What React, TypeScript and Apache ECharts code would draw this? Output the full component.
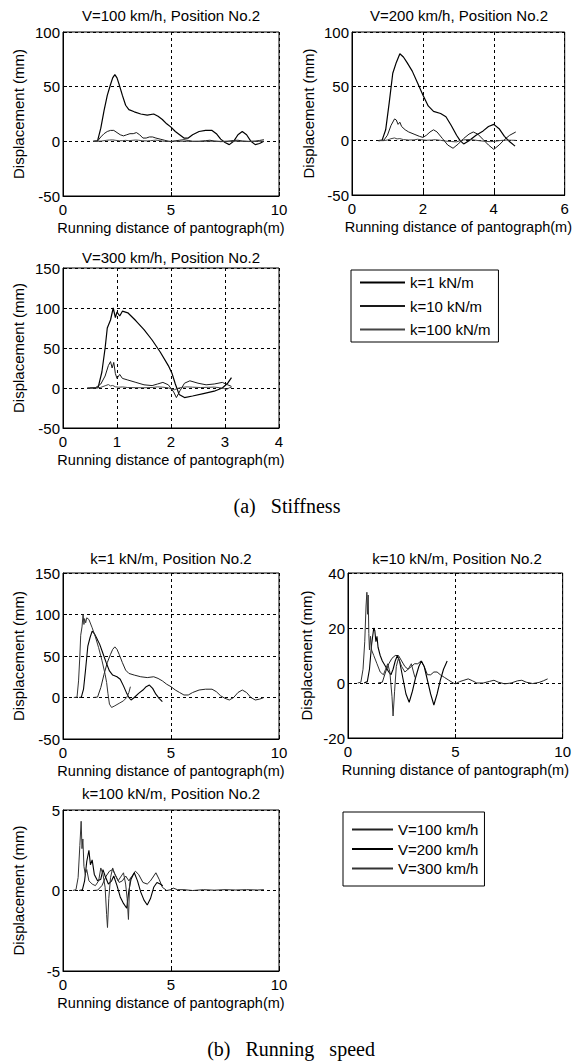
import React, { useEffect, useRef } from "react";
import * as echarts from "echarts";

// Displacement (mm) vs running distance of pantograph (m): [distance, displacement]
const k1V100 = [
  [1.4, 0], [1.6, 0.5], [1.75, 12], [1.9, 28], [2.05, 42], [2.2, 52], [2.3, 58], [2.4, 61],
  [2.5, 58], [2.6, 52], [2.75, 42], [2.9, 33], [3.05, 29], [3.3, 27], [3.6, 25], [3.9, 24],
  [4.2, 25], [4.4, 23], [4.6, 20], [4.8, 16], [5.0, 13], [5.2, 9], [5.4, 6], [5.6, 3],
  [5.8, 3], [6.0, 6], [6.3, 9], [6.6, 10], [6.9, 10], [7.1, 7], [7.3, 2], [7.5, -1],
  [7.7, -3], [7.9, 0], [8.1, 6], [8.3, 9], [8.5, 6], [8.7, 0], [8.9, -3], [9.1, -2], [9.3, 0],
];
const k1V200 = [
  [0.75, 0], [0.85, 0.5], [0.95, 10], [1.05, 35], [1.15, 62], [1.25, 72], [1.35, 80], [1.45, 77],
  [1.55, 72], [1.7, 64], [1.85, 53], [2.0, 42], [2.15, 32], [2.3, 27], [2.5, 25], [2.65, 22],
  [2.8, 14], [2.95, 5], [3.05, 0], [3.15, -3], [3.3, 0], [3.5, 5], [3.7, 9], [3.85, 13],
  [4.0, 15], [4.15, 11], [4.3, 4], [4.45, -1], [4.6, -5],
];
const k1V300 = [
  [0.5, 0], [0.65, 0.5], [0.72, 20], [0.78, 50], [0.82, 75], [0.88, 85], [0.93, 100], [0.97, 88],
  [1.0, 95], [1.05, 90], [1.1, 96], [1.2, 94], [1.35, 84], [1.5, 73], [1.65, 60], [1.8, 45],
  [1.95, 28], [2.02, 18], [2.08, 5], [2.15, -8], [2.25, -12], [2.4, -10], [2.6, -7], [2.8, -4],
  [2.95, 0], [3.05, 6], [3.12, 13],
];
const k10V100 = [
  [1.4, 0], [1.6, 0.3], [1.75, 4], [1.9, 7], [2.05, 9], [2.2, 10], [2.35, 10], [2.5, 8],
  [2.65, 6], [2.8, 5], [2.95, 6], [3.1, 7], [3.25, 7], [3.4, 8], [3.55, 6], [3.7, 3],
  [3.85, 3], [4.0, 4], [4.15, 4], [4.3, 3], [4.5, 2], [4.7, 1], [4.9, 0], [5.0, -0.3],
  [5.2, 0.5], [5.4, 1], [5.6, 1.5], [5.8, 0.8], [6.0, 0], [6.3, 0], [6.6, 0.6], [6.8, 1],
  [7.0, 0.3], [7.3, -0.3], [7.6, 0], [7.9, 0.8], [8.1, 1], [8.3, 0.3], [8.6, -0.2], [8.9, 0.2],
  [9.1, 0.8], [9.3, 1.5],
];
const k10V200 = [
  [0.75, 0], [0.9, 0.5], [1.0, 5], [1.1, 14], [1.2, 20], [1.25, 19], [1.3, 15], [1.35, 17],
  [1.4, 13], [1.5, 10], [1.6, 8], [1.75, 6], [1.9, 4], [2.0, 3], [2.1, 5], [2.2, 8],
  [2.3, 10], [2.4, 8], [2.55, 2], [2.7, -4], [2.85, -7], [3.0, -3], [3.15, 2], [3.3, 6],
  [3.42, 8], [3.55, 6], [3.7, 1], [3.85, -4], [4.0, -8], [4.15, -4], [4.3, 1], [4.45, 5], [4.62, 8],
];
const k10V300 = [
  [0.45, 0], [0.6, 0.3], [0.7, 5], [0.78, 15], [0.84, 28], [0.88, 33], [0.91, 25], [0.94, 32],
  [0.97, 18], [1.0, 12], [1.05, 17], [1.1, 12], [1.2, 10], [1.35, 7], [1.5, 4], [1.65, 3],
  [1.75, 5], [1.85, 7], [1.95, 4], [2.05, -5], [2.1, -12], [2.17, -3], [2.25, 6], [2.35, 9],
  [2.5, 6], [2.65, 4], [2.8, 5], [2.95, 7], [3.05, 4], [3.12, 2],
];
const k100V100 = [
  [1.4, 0], [1.6, 0.02], [1.8, 0.3], [2.0, 0.9], [2.15, 1.2], [2.3, 1.3], [2.45, 0.9], [2.6, 0.5],
  [2.75, 0.6], [2.9, 0.9], [3.05, 0.6], [3.2, 0.9], [3.35, 1.2], [3.5, 1.0], [3.7, 0.5], [3.9, 0.4],
  [4.05, 0.6], [4.2, 0.9], [4.3, 1.1], [4.45, 0.7], [4.6, 0.2], [4.8, 0], [5.0, 0.05], [5.1, 0.15],
  [5.3, 0.05], [5.6, 0.05], [6.0, 0], [6.5, 0.05], [7.0, 0.02], [7.5, 0.05], [8.0, 0.03],
  [8.5, 0.05], [9.0, 0.03], [9.3, 0.05],
];
const k100V200 = [
  [0.75, 0], [0.9, 0.05], [1.0, 0.6], [1.1, 1.8], [1.2, 2.5], [1.27, 1.6], [1.35, 1.9], [1.45, 1.0],
  [1.6, 0.6], [1.75, 0.7], [1.85, 1.3], [1.95, 0.9], [2.1, 0.4], [2.25, 0.6], [2.35, 0.9], [2.5, 0.3],
  [2.65, -0.4], [2.8, -0.8], [2.95, -1.1], [3.05, 0], [3.15, 0.7], [3.3, 1.1], [3.45, 0.6], [3.6, -0.1],
  [3.75, -0.6], [3.9, -0.9], [4.05, -0.5], [4.2, 0.2], [4.35, 0.5], [4.5, 0.4], [4.62, 0.3],
];
const k100V300 = [
  [0.45, 0], [0.6, 0.05], [0.7, 0.8], [0.78, 2.8], [0.84, 4.3], [0.88, 2.6], [0.92, 3.2], [0.97, 1.5],
  [1.03, 1.0], [1.1, 1.3], [1.2, 0.6], [1.35, 0.4], [1.5, 0.3], [1.65, 0.6], [1.75, 1.4], [1.85, 1.0],
  [1.95, 0.2], [2.02, -1.5], [2.06, -2.3], [2.12, -0.5], [2.2, 0.8], [2.3, 1.4], [2.4, 1.0], [2.55, 0.6],
  [2.7, 0.9], [2.8, 1.1], [2.9, 0.4], [2.97, -0.5], [3.03, -1.8], [3.08, 0.2], [3.12, 0.8],
];

const stiffnessNames = ["k=1 kN/m", "k=10 kN/m", "k=100 kN/m"];
const speedNames = ["V=100 km/h", "V=200 km/h", "V=300 km/h"];

const panelTitles = [
  "V=100 km/h, Position No.2",
  "V=200 km/h, Position No.2",
  "V=300 km/h, Position No.2",
  "k=1 kN/m, Position No.2",
  "k=10 kN/m, Position No.2",
  "k=100 kN/m, Position No.2",
];
const xAxisName = "Running distance of pantograph(m)";
const yAxisName = "Displacement (mm)";
const captions = ["(a)   Stiffness", "(b)   Running   speed"];

// Axis ranges per panel: [min, max, step]
const xRanges = [[0, 10, 5], [0, 6, 2], [0, 4, 1], [0, 10, 5], [0, 10, 5], [0, 10, 5]];
const yRanges = [[-50, 100, 50], [-50, 100, 50], [-50, 150, 50], [-50, 150, 50], [-20, 40, 20], [-5, 5, 5]];

const SANS = "'Liberation Sans', Arial, Helvetica, sans-serif";
const SERIF = "'Liberation Serif', 'Times New Roman', serif";
const FS = 15;

// Panel frames (px)
const grids = [
  { left: 63, top: 32, width: 216, height: 164 },
  { left: 352, top: 32, width: 214, height: 163 },
  { left: 63, top: 268, width: 216, height: 160 },
  { left: 63, top: 573, width: 216, height: 166 },
  { left: 348, top: 573, width: 219, height: 165 },
  { left: 63, top: 810, width: 216, height: 161 },
];
const yNameGaps = [37, 36, 37, 37, 34, 37];

const stiffLine = [
  { width: 1.2, color: "#000" },
  { width: 1, color: "#1a1a1a" },
  { width: 1, color: "#444" },
];
const speedLine = [
  { width: 1, color: "#222" },
  { width: 1.1, color: "#000" },
  { width: 1, color: "#333" },
];

function buildOption() {
  const panelsData = [
    [k1V100, k10V100, k100V100],
    [k1V200, k10V200, k100V200],
    [k1V300, k10V300, k100V300],
    [k1V100, k1V200, k1V300],
    [k10V100, k10V200, k10V300],
    [k100V100, k100V200, k100V300],
  ];

  const series: any[] = [];
  panelsData.forEach((group, gi) => {
    group.forEach((data, si) => {
      const byStiffness = gi < 3;
      const ls = byStiffness ? stiffLine[si] : speedLine[si];
      series.push({
        type: "line",
        name: byStiffness ? stiffnessNames[si] : speedNames[si],
        xAxisIndex: gi,
        yAxisIndex: gi,
        data,
        symbol: "none",
        smooth: false,
        clip: true,
        lineStyle: { color: ls.color, width: ls.width, type: "solid" },
        itemStyle: { color: ls.color },
        z: 3,
      });
    });
  });

  const splitStyle = { show: true, lineStyle: { color: "#000", type: [3, 3], width: 1 } };

  const xAxis = xRanges.map((r, gi) => ({
    type: "value",
    gridIndex: gi,
    min: r[0],
    max: r[1],
    interval: r[2],
    name: xAxisName,
    nameLocation: "middle",
    nameGap: 24,
    nameTextStyle: { fontSize: 14.5, color: "#000", fontFamily: SANS },
    axisLine: { show: true, onZero: false, lineStyle: { color: "#000", width: 1 } },
    axisTick: { show: true, inside: true, length: 4, lineStyle: { color: "#000" } },
    axisLabel: { fontSize: FS, color: "#000", margin: 6, fontFamily: SANS },
    splitLine: splitStyle,
  }));

  const yAxis = yRanges.map((r, gi) => ({
    type: "value",
    gridIndex: gi,
    min: r[0],
    max: r[1],
    interval: r[2],
    name: yAxisName,
    nameLocation: "middle",
    nameRotate: 90,
    nameGap: yNameGaps[gi],
    nameTextStyle: { fontSize: FS, color: "#000", fontFamily: SANS },
    axisLine: { show: true, lineStyle: { color: "#000", width: 1 } },
    axisTick: { show: true, inside: true, length: 4, lineStyle: { color: "#000" } },
    axisLabel: { fontSize: FS, color: "#000", margin: 3, fontFamily: SANS },
    splitLine: splitStyle,
  }));

  const titleAnchors = [
    [171, 15], [459, 15], [171, 257], [171, 558], [457, 558], [171, 793],
  ];
  const graphic: any[] = panelTitles.map((t, i) => ({
    type: "text",
    x: titleAnchors[i][0],
    y: titleAnchors[i][1],
    style: {
      text: t,
      fill: "#000",
      font: `${FS}px ${SANS}`,
      textAlign: "center",
      textVerticalAlign: "middle",
    },
  }));
  const captionAnchors = [[287, 506], [291, 1049]];
  captions.forEach((c, i) => {
    graphic.push({
      type: "text",
      x: captionAnchors[i][0],
      y: captionAnchors[i][1],
      style: {
        text: c,
        fill: "#000",
        font: `20px ${SERIF}`,
        textAlign: "center",
        textVerticalAlign: "middle",
      },
    });
  });

  const legendBase = {
    orient: "vertical",
    backgroundColor: "#fff",
    borderColor: "#000",
    borderWidth: 1,
    borderRadius: 0,
    itemHeight: 14,
    selectedMode: false,
    itemStyle: { opacity: 0 },
    textStyle: { fontSize: FS, color: "#000", fontFamily: SANS },
  };

  return {
    animation: false,
    backgroundColor: "#fff",
    grid: grids.map((g) => ({ ...g, show: true, borderColor: "#000", borderWidth: 1, containLabel: false })),
    xAxis,
    yAxis,
    series,
    legend: [
      { ...legendBase, data: stiffnessNames, left: 351, top: 270, itemWidth: 45, itemGap: 8.5, padding: [5, 8, 5, 8] },
      { ...legendBase, data: speedNames, left: 343, top: 812, itemWidth: 41, itemGap: 4.5, padding: [10, 6, 10, 8] },
    ],
    graphic,
  };
}

export default function App() {
  const ref = useRef<HTMLDivElement>(null);

  useEffect(() => {
    document.body.style.margin = "0";
    if (!ref.current) return;
    const chart = echarts.init(ref.current, undefined, { renderer: "svg" });
    chart.setOption(buildOption() as any);
    return () => chart.dispose();
  }, []);

  return <div ref={ref} style={{ width: 574, height: 1064, background: "#fff" }} />;
}
